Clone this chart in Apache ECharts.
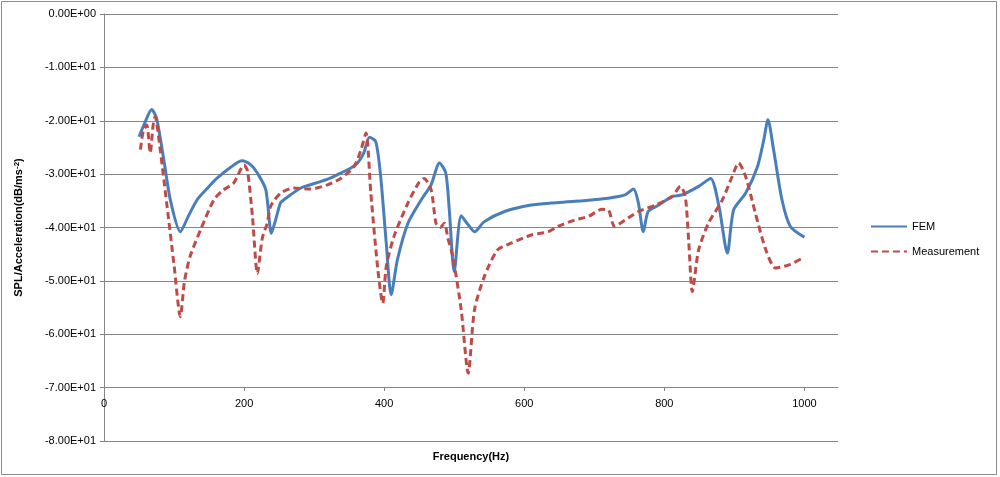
<!DOCTYPE html>
<html><head><meta charset="utf-8">
<script src="https://cdn.jsdelivr.net/npm/echarts@6/dist/echarts.min.js"></script>
<style>html,body{margin:0;padding:0;background:#fff}#c{width:1000px;height:477px}</style>
</head><body><div id="c"></div>
<script>
var xTicks = [0, 200, 400, 600, 800, 1000];
var femFreq = [50,58,68,75,85,95,109,120,133,150,161,180,197,210,219,231,239,245,252,257,281,309,324,338,352,362,371,379,388,395,403,410,419,434,453,467,479,488,493,500,510,520,529,543,572,610,639,672,720,744,756,763,770,777,792,811,825,849,866,878,890,899,916,933,942,948,956,968,980,1000];
var femSpl = [-23.0,-20.5,-17.9,-19.5,-27,-35,-40.8,-38,-34.8,-32.3,-30.8,-28.8,-27.5,-28.3,-29.8,-32.9,-41.1,-38.6,-35.4,-34.8,-32.6,-31.4,-30.7,-29.8,-28.9,-27.9,-26,-23.1,-23.9,-30.4,-42.9,-52.6,-46,-39.2,-34.8,-32,-27.9,-29.8,-36.7,-48.3,-37.8,-39.5,-40.8,-38.9,-37,-35.8,-35.4,-35.1,-34.5,-33.9,-32.8,-35.4,-40.8,-37,-35.8,-34.2,-33.9,-32.3,-30.8,-36,-44.8,-36.7,-33.6,-28.6,-23.6,-19.8,-25.4,-34.8,-39.8,-41.8];
var measFreq = [52,56,61,66,70,73,77,90,100,109,115,123,138,157,170,185,200,205,212,219,226,233,238,252,271,295,319,338,357,367,374,381,391,398,403,414,434,450,457,467,474,480,486,491,498,510,520,529,543,562,582,610,634,648,672,692,711,720,729,744,763,787,811,823,830,835,840,849,863,883,897,906,916,930,945,959,978,995];
var measSpl = [-25.4,-22,-20.8,-26,-21,-19.2,-22,-36,-47,-56.7,-50,-45.4,-40.4,-34.8,-33,-31.7,-28.3,-29.5,-38,-48.6,-42,-39.2,-36,-33.6,-32.6,-32.8,-32,-30.8,-28.6,-25.4,-22.3,-33.6,-47.9,-54.2,-47.3,-41.7,-35.4,-31.5,-30.8,-32.9,-39.2,-40,-39.2,-42,-45.4,-55.4,-67.3,-55.4,-49.2,-44.2,-42.9,-41.4,-40.8,-39.8,-38.6,-37.9,-36.6,-36.7,-39.8,-38.6,-37,-35.8,-34.2,-32.3,-34.2,-42.9,-52,-44.2,-39.2,-34.8,-30.4,-27.9,-30.4,-37.3,-44.2,-47.6,-47,-45.9];

function zip(a, b) { return a.map(function (v, i) { return [v, b[i]]; }); }
function sci(v) {
  if (v === 0) return '0.00E+00';
  var e = Math.floor(Math.log10(Math.abs(v)));
  var m = v / Math.pow(10, e);
  return m.toFixed(2) + 'E' + (e < 0 ? '-' : '+') + String(Math.abs(e)).padStart(2, '0');
}
var FONT = 'Liberation Sans';
var GRAY = '#868686';
var chart = echarts.init(document.getElementById('c'), null, {renderer: 'canvas'});
chart.setOption({
  animation: false,
  backgroundColor: '#fff',
  textStyle: {fontFamily: FONT},
  graphic: [{type: 'rect', shape: {x: 1.5, y: 1.5, width: 995, height: 473}, style: {fill: 'none', stroke: '#8c8c8c', lineWidth: 1}, silent: true}],
  legend: {
    orient: 'vertical', left: 865, top: 216, itemWidth: 36, itemHeight: 10, itemGap: 14,
    itemStyle: {opacity: 0},
    textStyle: {fontFamily: FONT, fontSize: 11, color: '#000'},
    data: ['FEM', 'Measurement']
  },
  grid: [
    {left: 104, right: 162, top: 14, bottom: 36},
    {left: 104, right: 162, top: 14, bottom: 90}
  ],
  xAxis: [
    {gridIndex: 0, type: 'value', min: 0, max: 1048, interval: 200,
     axisLine: {show: false}, axisTick: {show: false}, axisLabel: {show: false}, splitLine: {show: false},
     name: 'Frequency(Hz)', nameLocation: 'middle', nameGap: 10,
     nameTextStyle: {fontFamily: FONT, fontSize: 11, fontWeight: 'bold', color: '#000'}},
    {gridIndex: 1, type: 'value', min: 0, max: 1048, interval: 200,
     axisLine: {show: true, onZero: false, lineStyle: {color: GRAY, width: 1}},
     axisTick: {show: true, length: 4, lineStyle: {color: GRAY}},
     axisLabel: {show: true, margin: 11, fontFamily: FONT, fontSize: 11, color: '#000', showMaxLabel: false,
       formatter: function (v) { return String(v); }},
     splitLine: {show: false}}
  ],
  yAxis: [
    {gridIndex: 0, type: 'value', min: -80, max: 0, interval: 10,
     axisLine: {show: true, lineStyle: {color: GRAY, width: 1}},
     axisTick: {show: true, length: 4, lineStyle: {color: GRAY}},
     axisLabel: {margin: 8, fontFamily: FONT, fontSize: 11, color: '#000', formatter: sci},
     splitLine: {show: true, lineStyle: {color: GRAY, width: 1}},
     name: 'SPL/Acceleration(dB/ms{sup|-2})', nameLocation: 'middle', nameGap: 80,
     nameTextStyle: {fontFamily: FONT, fontSize: 11, fontWeight: 'bold', color: '#000',
       rich: {sup: {fontFamily: FONT, fontSize: 8, fontWeight: 'bold', verticalAlign: 'top', color: '#000'}}}},
    {gridIndex: 1, type: 'value', min: -70, max: 0, show: false}
  ],
  series: [
    {name: 'FEM', type: 'line', xAxisIndex: 0, yAxisIndex: 0, data: zip(femFreq, femSpl),
     smooth: 0.25, symbol: 'none', lineStyle: {color: '#4a7ebb', width: 3}, itemStyle: {color: '#4a7ebb'}},
    {name: 'Measurement', type: 'line', xAxisIndex: 0, yAxisIndex: 0, data: zip(measFreq, measSpl),
     smooth: 0.25, symbol: 'none', lineStyle: {color: '#be4b48', width: 3, type: [7, 4]}, itemStyle: {color: '#be4b48'}}
  ]
});
</script></body></html>
